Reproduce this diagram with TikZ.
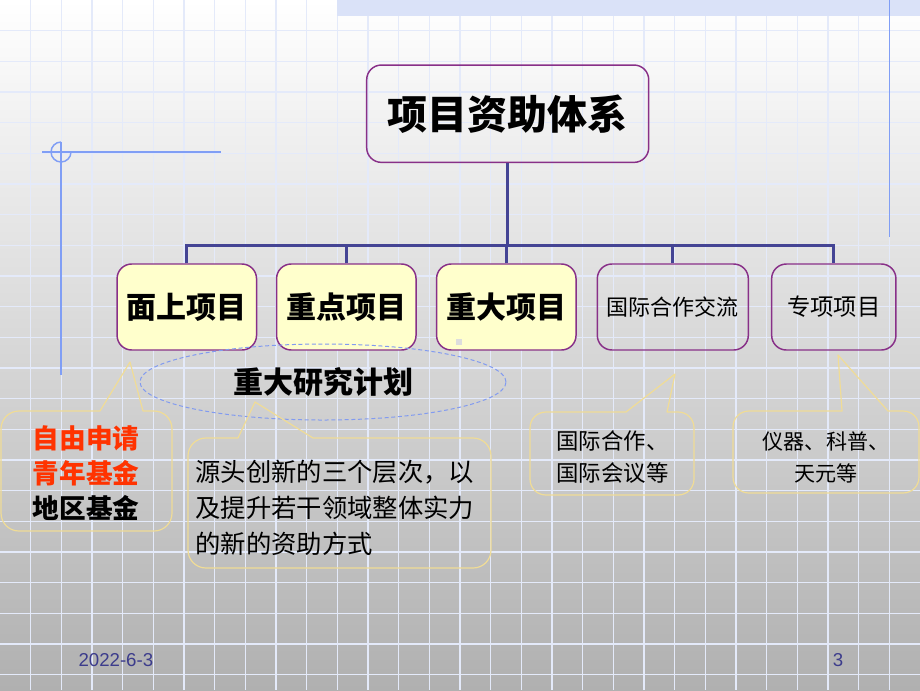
\documentclass[tikz,border=0pt]{standalone}
\usepackage{fontspec}
\usetikzlibrary{shapes.geometric}
\newfontfamily\cjk{Noto Sans CJK SC}
\newfontfamily\footfont{Liberation Sans}

\tikzset{every picture/.style={line width=0.75pt}}
\tikzset{
  gridline/.style={color={rgb, 255:red, 228; green, 234; blue, 250 }, line width=1.2},
  deco/.style={color={rgb, 255:red, 128; green, 158; blue, 245 }, line width=1.1},
  sysbox/.style={draw={rgb, 255:red, 136; green, 48; blue, 136 }, line width=1.1, rounded corners=11pt, inner sep=0pt,
    minimum width=211.5pt, minimum height=73pt, font=\cjk\bfseries\fontsize{30}{36}\selectfont},
  keybox/.style={draw={rgb, 255:red, 136; green, 48; blue, 136 }, fill={rgb, 255:red, 255; green, 255; blue, 204 }, line width=1.1,
    rounded corners=11pt, inner sep=0pt, minimum width=104.6pt, minimum height=64.5pt, font=\cjk\bfseries\fontsize{22.5}{27}\selectfont},
  sidebox/.style={draw={rgb, 255:red, 136; green, 48; blue, 136 }, line width=1.1, rounded corners=11pt, inner sep=0pt,
    minimum height=64.5pt, font=\cjk\fontsize{16.5}{20}\selectfont},
  tree/.style={color={rgb, 255:red, 68; green, 68; blue, 148 }, line width=2.25},
  callout/.style={color={rgb, 255:red, 240; green, 220; blue, 150 }, line width=0.9, line join=round},
  planring/.style={ellipse, draw={rgb, 255:red, 130; green, 155; blue, 240 }, dash pattern=on 3pt off 2pt, line width=0.75,
    minimum width=274.5pt, minimum height=57pt, inner sep=0pt, font=\cjk\bfseries\fontsize{22.5}{27}\selectfont},
  footer/.style={text={rgb, 255:red, 60; green, 60; blue, 140 }, inner sep=0pt, font=\footfont\fontsize{14}{16}\selectfont}
}

\begin{document}
\begin{tikzpicture}[x=0.75pt,y=0.75pt,yscale=-1,xscale=1]
\useasboundingbox (0,0) rectangle (920,690);

%Background
\shade [top color=white, middle color={rgb, 255:red, 236; green, 236; blue, 236 }, bottom color={rgb, 255:red, 176; green, 176; blue, 176 }] (0,0) rectangle (920,690);
\foreach \i in {1,...,29} \draw [gridline] ({\i*30.667},0) -- ({\i*30.667},690);
\foreach \j in {1,...,22} \draw [gridline] (0,{\j*30.667}) -- (920,{\j*30.667});
\fill [color={rgb, 255:red, 218; green, 226; blue, 248 }] (337,0) rectangle (920,16);
\draw [deco, line width=0.75] (889,0) -- (889,237);

%Corner mark
\draw [deco] (42,152) -- (221,152);
\draw [deco] (61,142) -- (61,375);
\draw [deco] (61,142) .. controls (55.5,142) and (51,146.5) .. (51,152) .. controls (51,157.5) and (55.5,162) .. (61,162) .. controls (66.5,162) and (71,157.5) .. (71,152);

% Boxes
\node [sysbox] (system) at (507.7,113.7) {项目资助体系};
\node [keybox] (mianshang) at (186.8,307) {面上项目};
\node [keybox] (zhongdian) at (346.3,307) {重点项目};
\node [keybox] (zhongda) at (506.3,307) {重大项目};
\node [sidebox, minimum width=113.25pt] (guoji) at (672.8,307) {国际合作交流};
\node [sidebox, minimum width=93.2pt, font=\cjk\fontsize{17.5}{20}\selectfont] (zhuanxiang) at (833.8,307) {专项项目};
\fill [color={rgb, 255:red, 221; green, 221; blue, 221 }] (456,339) rectangle (462,345);

%Tree lines
\coordinate (bar) at (507.7,245);
\draw [tree] (system.south) -- (bar);
\draw [tree] (mianshang.north) -- (mianshang.north |- bar) -- (zhuanxiang.north |- bar) -- (zhuanxiang.north);
\draw [tree] (zhongdian.north) -- (zhongdian.north |- bar);
\draw [tree] (zhongda.north) -- (zhongda.north |- bar);
\draw [tree] (guoji.north) -- (guoji.north |- bar);

%Ellipse
\node [planring] (plan) at (323,382) {重大研究计划};

%Callouts
\draw [callout] (100,411) -- (130,362) -- (143,411) -- (154,411) .. controls (164,411) and (172,419) .. (172,429) -- (172,513) .. controls (172,523) and (164,531) .. (154,531) -- (19,531) .. controls (9,531) and (1,523) .. (1,513) -- (1,429) .. controls (1,419) and (9,411) .. (19,411) -- cycle ;
\draw [callout] (238,438) -- (255,402) -- (313,438) -- (473,438) .. controls (483,438) and (491,446) .. (491,456) -- (491,550) .. controls (491,560) and (483,568) .. (473,568) -- (206,568) .. controls (196,568) and (188,560) .. (188,550) -- (188,456) .. controls (188,446) and (196,438) .. (206,438) -- cycle ;
\draw [callout] (626,412) -- (675,374) -- (667,412) -- (678,412) .. controls (687,412) and (694,419) .. (694,428) -- (694,479) .. controls (694,488) and (687,495) .. (678,495) -- (546,495) .. controls (537,495) and (530,488) .. (530,479) -- (530,428) .. controls (530,419) and (537,412) .. (546,412) -- cycle ;
\draw [callout] (842,411) -- (838,355) -- (888,411) -- (903,411) .. controls (912,411) and (919,418) .. (919,427) -- (919,477) .. controls (919,486) and (912,493) .. (903,493) -- (749,493) .. controls (740,493) and (733,486) .. (733,477) -- (733,427) .. controls (733,418) and (740,411) .. (749,411) -- cycle ;

% Text Node
\node [inner sep=0pt, align=center, font=\cjk\bfseries\fontsize{20}{26.25}\selectfont] (freefund) at (86,473) {\textcolor[RGB]{255,51,0}{自由申请}\\\textcolor[RGB]{255,51,0}{青年基金}\\地区基金};
% Text Node
\node [inner sep=0pt, align=left, anchor=west, font=\cjk\fontsize{19}{27}\selectfont] (plannote) at (195,508) {源头创新的三个层次，以\\及提升若干领域整体实力\\的新的资助方式};
% Text Node
\node [inner sep=0pt, align=left, anchor=west, font=\cjk\fontsize{16.8}{24}\selectfont] (guojinote) at (556,457) {国际合作、\\国际会议等};
% Text Node
\node [inner sep=0pt, align=center, font=\cjk\fontsize{15.8}{24}\selectfont] (zhuanxiangnote) at (826,457) {仪器、科普、\\天元等};

%Footer
\node [footer, anchor=west] (date) at (78,660) {2022-6-3};
\node [footer] (page) at (838,660) {3};

\end{tikzpicture}
\end{document}
